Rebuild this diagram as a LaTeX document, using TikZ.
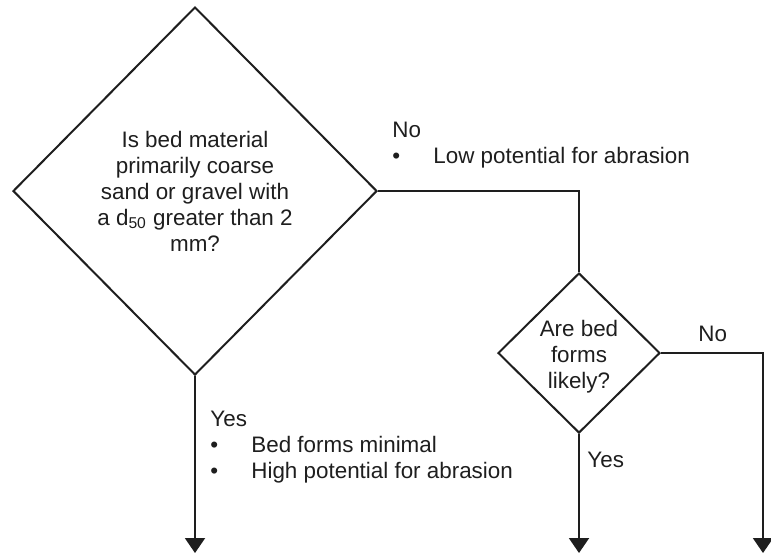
\documentclass[tikz,border=0pt]{standalone}
\usepackage{fontspec}
\setmainfont{Liberation Sans}
\usetikzlibrary{shapes.geometric,arrows.meta}
\definecolor{flowink}{HTML}{1E1E1E}
\newcommand{\bitem}{\makebox[20.5pt][l]{\textbullet}}

\begin{document}
\begin{tikzpicture}[x=0.5pt, y=-0.5pt,
  every node/.style={font=\fontsize{11.2}{13}\selectfont, text=flowink},
  decision/.style={draw=flowink, line width=1pt, diamond, inner sep=0pt, align=center},
  branch/.style={draw=flowink, line width=1pt, -{Triangle[width=10pt,length=7.5pt]}},
  note/.style={anchor=base west, align=left, inner sep=0pt}]
\useasboundingbox (0,0) rectangle (771,554);
\node[decision, minimum width=182pt, minimum height=184pt] (bedmat) at (195,191) {%
Is bed material\\ primarily coarse\\ sand or gravel with\\ a d\textsubscript{50} greater than 2\\ mm?};
\node[decision, minimum width=81pt, minimum height=80pt] (bedforms) at (579,353) {%
\rule{0pt}{12pt}Are bed\\ forms\\ likely?};
\coordinate (endyes) at (195,553);
\coordinate (endyesb) at (579,553);
\coordinate (endnob) at (763,553);
\draw[draw=flowink, line width=1pt] (bedmat.east) -| (bedforms.north);
\draw[branch] (bedmat.south) -- (endyes);
\draw[branch] (bedforms.south) -- (endyesb);
\draw[branch] (bedforms.east) -| (endnob);
% base anchor sits on the last line
\node[note] (lowabr) at (392,163) {No\\ \bitem Low potential for abrasion};
\node[note] (highabr) at (210,478) {Yes\\ \bitem Bed forms minimal\\ \bitem High potential for abrasion};
\node[note] (formsyes) at (587,467) {Yes};
\node[note] (formsno) at (698,341) {No};
\end{tikzpicture}
\end{document}
